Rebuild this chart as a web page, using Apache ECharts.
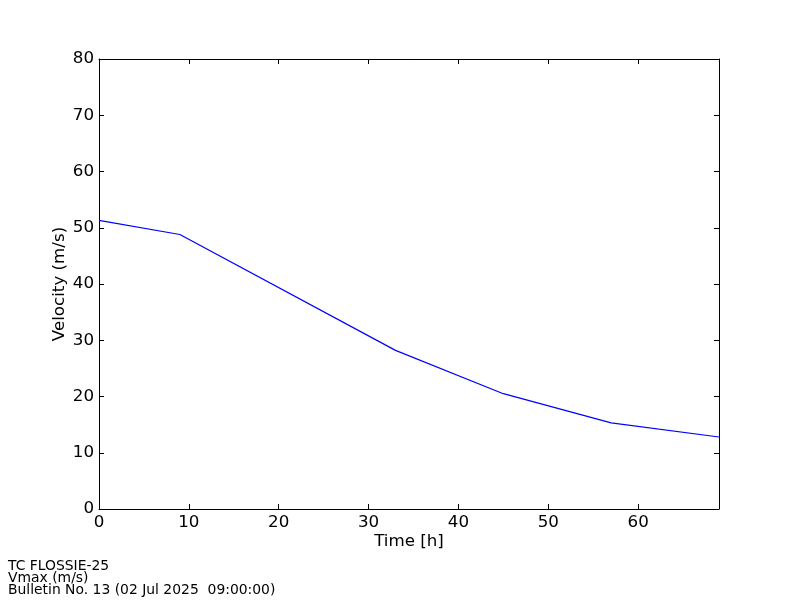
<!DOCTYPE html>
<html><head><meta charset="utf-8">
<script src="https://cdn.jsdelivr.net/npm/echarts@6/dist/echarts.min.js"></script>
<style>html,body{margin:0;padding:0;background:#fff}#c{width:800px;height:600px}</style>
</head><body><div id="c"></div>
<script>
const timeHours = [0, 9, 33, 45, 57, 69];
const vmax = [51.3, 48.8, 28.2, 20.5, 15.3, 12.8];
const titleLines = ['TC FLOSSIE-25', 'Vmax (m/s)', 'Bulletin No. 13 (02 Jul 2025  09:00:00)'];

const font = 'DejaVu Sans';
const fs = 16.7;
const chart = echarts.init(document.getElementById('c'), null, {renderer: 'canvas'});
const axisLineStyle = {color: '#000', width: 1};
const lineCfg = {show: true, onZero: false, lineStyle: axisLineStyle};
const tickIn = {show: true, inside: true, length: 5, lineStyle: {color: '#000', width: 1}};
chart.setOption({
  animation: false,
  backgroundColor: '#fff',
  grid: {left: 99, top: 59, width: 620, height: 450, containLabel: false},
  graphic: [{
    type: 'text', left: 8, top: 559,
    style: {text: titleLines.join('\n'), font: '13.9px "DejaVu Sans"', lineHeight: 12, fill: '#000'}
  }],
  xAxis: [{
    type: 'value', min: 0, max: 69, interval: 10, position: 'bottom',
    name: 'Time [h]', nameLocation: 'middle', nameGap: 24, nameMoveOverlap: false,
    nameTextStyle: {fontFamily: font, fontSize: fs, color: '#000'},
    axisLine: lineCfg,
    axisTick: tickIn, splitLine: {show: false},
    axisLabel: {fontFamily: font, fontSize: fs, color: '#000', margin: 5, showMaxLabel: false}
  }, {
    type: 'value', min: 0, max: 69, interval: 10, position: 'top',
    axisLine: lineCfg,
    axisTick: tickIn, splitLine: {show: false}, axisLabel: {show: false}
  }],
  yAxis: [{
    type: 'value', min: 0, max: 80, interval: 10, position: 'left',
    name: 'Velocity (m/s)', nameLocation: 'middle', nameGap: 31, nameRotate: 90, nameMoveOverlap: false,
    nameTextStyle: {fontFamily: font, fontSize: fs, color: '#000'},
    axisLine: lineCfg,
    axisTick: tickIn, splitLine: {show: false},
    axisLabel: {fontFamily: font, fontSize: fs, color: '#000', margin: 5}
  }, {
    type: 'value', min: 0, max: 80, interval: 10, position: 'right',
    axisLine: lineCfg,
    axisTick: tickIn, splitLine: {show: false}, axisLabel: {show: false}
  }],
  series: [{
    type: 'line', xAxisIndex: 0, yAxisIndex: 0,
    data: timeHours.map((t, i) => [t, vmax[i]]),
    symbol: 'none', lineStyle: {color: '#0000ff', width: 1.2}
  }]
});
</script></body></html>
